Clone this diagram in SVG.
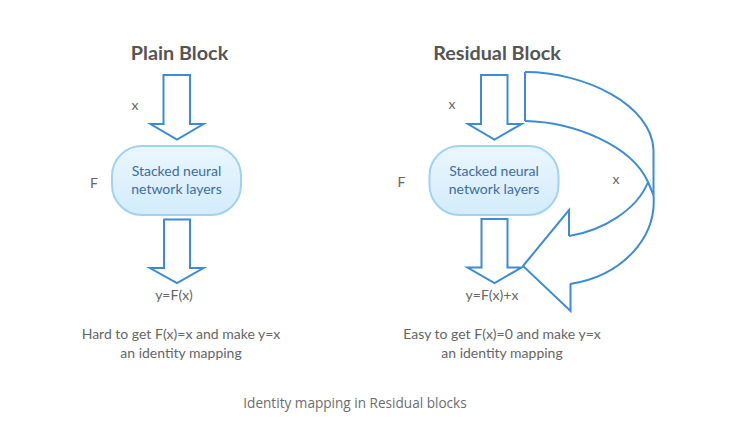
<svg xmlns="http://www.w3.org/2000/svg" width="730" height="441" viewBox="0 0 730 441">
<defs>
<linearGradient id="pillFill" x1="0" y1="0" x2="0" y2="1">
<stop offset="0" stop-color="#eaf6fe"/>
<stop offset="1" stop-color="#d3ecfb"/>
</linearGradient>
<style>
.title{font-family:Lato,"Liberation Sans",sans-serif;font-weight:bold;font-size:19.8px;fill:#555;text-anchor:middle}
.lbl{font-family:Lato,"Liberation Sans",sans-serif;font-size:14px;fill:#666;text-anchor:middle}
.cap{font-family:"Open Sans","Liberation Sans",sans-serif;font-size:13.6px;fill:#6d6d6d;text-anchor:middle}
.pill{fill:url(#pillFill);stroke:#a0d2f3;stroke-width:2}
.ptxt{font-family:Lato,"Liberation Sans",sans-serif;font-size:14px;fill:#3f6d9b;text-anchor:middle}
.arr{fill:#fff;stroke:#3d8bd6;stroke-width:2;stroke-linejoin:miter}
.ln{fill:none;stroke:#3d8bd6;stroke-width:2}
</style>
</defs>
<rect width="730" height="441" fill="#fff"/>

<g id="plain">
<text class="title" x="179.5" y="60">Plain Block</text>
<text class="lbl" x="135" y="110">x</text>
<text class="lbl" x="94" y="188">F</text>
<text class="lbl" x="174" y="300">y=F(x)</text>
<text class="lbl" x="181" y="339">Hard to get F(x)=x and make y=x</text>
<text class="lbl" x="181" y="358">an identity mapping</text>
</g>
<g id="plain-block">
<rect class="pill" x="112" y="146" width="129" height="69" rx="30" ry="30"/>
<text class="ptxt" x="176.5" y="176">Stacked neural</text>
<text class="ptxt" x="176.5" y="194">network layers</text>
</g>

<g id="residual">
<text class="title" x="497" y="60">Residual Block</text>
<text class="lbl" x="452" y="109">x</text>
<text class="lbl" x="401.5" y="187">F</text>
<text class="lbl" x="616" y="184">x</text>
<text class="lbl" x="492" y="300">y=F(x)+x</text>
<text class="lbl" x="502" y="339">Easy to get F(x)=0 and make y=x</text>
<text class="lbl" x="502" y="358">an identity mapping</text>
</g>
<g id="residual-block">
<rect class="pill" x="429.5" y="146" width="129" height="69" rx="30" ry="30"/>
<text class="ptxt" x="494" y="176">Stacked neural</text>
<text class="ptxt" x="494" y="194">network layers</text>
</g>

<g id="connectors">
<path class="arr" d="M163.5,75 L190,75 L190,124 L203.5,124 L177,139.5 L150.5,124 L163.5,124 Z"/>
<path class="arr" d="M164,219.5 L190,219.5 L190,268 L203.5,268 L177,283 L150,268 L164,268 Z"/>
<path class="arr" d="M481,75 L507.5,75 L507.5,124 L521.5,124 L494.5,139.5 L468,124 L481,124 Z"/>
<path class="arr" d="M481.5,219 L507.5,219 L507.5,267.5 L521.5,267.5 L494.5,283 L467.5,267.5 L481.5,267.5 Z"/>
<g id="skip">
<path class="ln" d="M525,72 L525,121"/>
<path class="ln" d="M525,72 C585,72 652,105 653.5,150 L653.5,195 C657,238 622,276 570,284"/>
<path class="ln" d="M525,121 C575,122 632,146 648,182 L653.5,195"/>
<path class="ln" d="M569,236 C602,231 637,210 648,182"/>
<path class="ln" d="M569,236 L569,210 L523,266 L570.5,311 L570.5,284" stroke-linejoin="miter"/>
</g>
</g>

<text class="cap" x="355" y="408">Identity mapping in Residual blocks</text>
</svg>
